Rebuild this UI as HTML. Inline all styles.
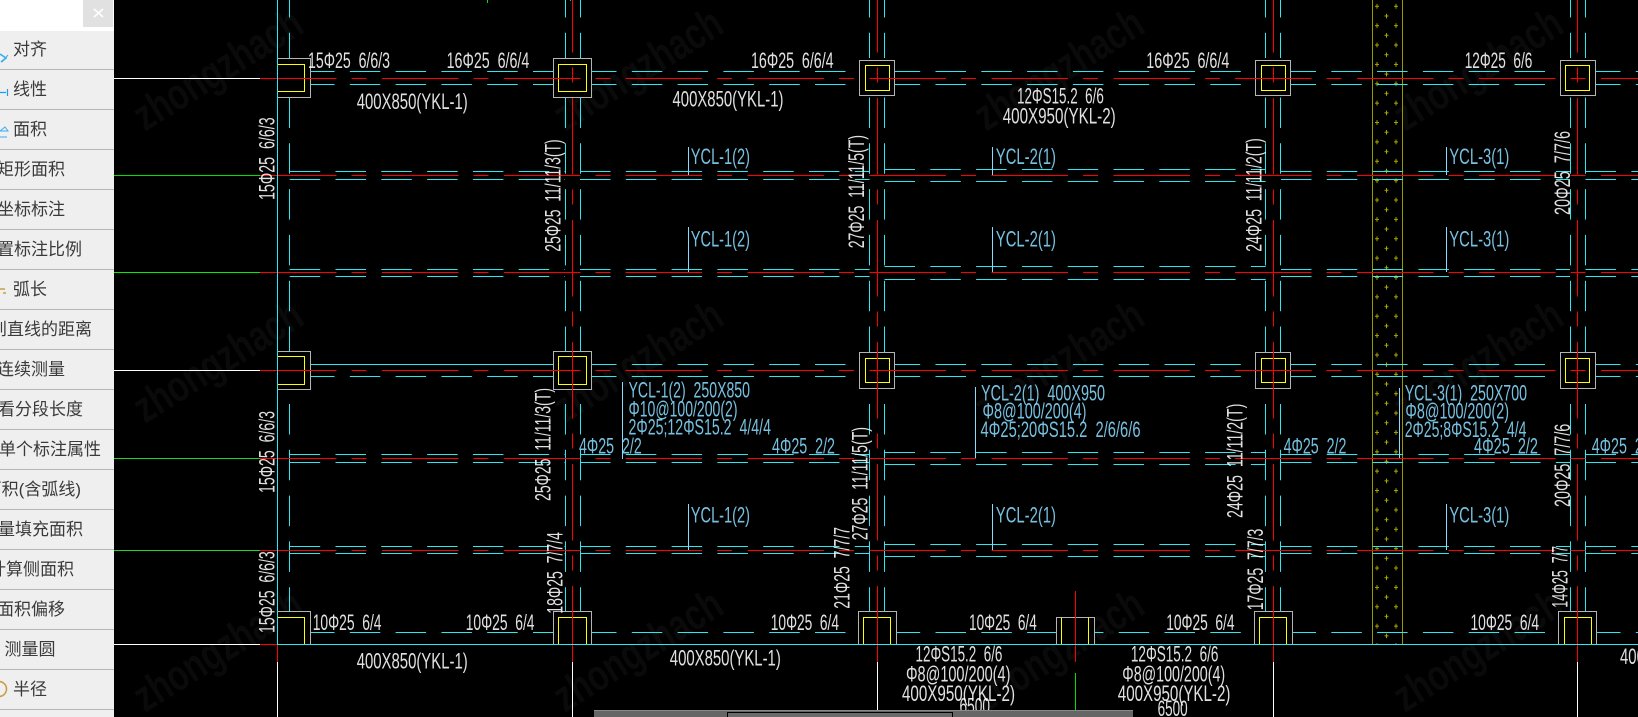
<!DOCTYPE html>
<html lang="zh">
<head>
<meta charset="utf-8">
<title>CAD</title>
<style>
html,body{margin:0;padding:0;background:#000;width:1638px;height:717px;overflow:hidden}
svg{display:block;position:absolute;left:0;top:0}
.ln line,.ln rect,.ln path{shape-rendering:crispEdges}
.w text{font-family:"Liberation Sans",sans-serif;font-size:22px;fill:#fff;fill-opacity:.88}
.b text{font-family:"Liberation Sans",sans-serif;font-size:22px;fill:#86dcff;fill-opacity:.88}
.s text{font-family:"Liberation Sans","Noto Sans CJK SC",sans-serif;font-size:17px;fill:#3a3a3a;text-anchor:end}
.wm text{font-family:"Liberation Sans",sans-serif;font-size:44px;font-weight:bold;fill:#0a0a0a}
</style>
</head>
<body>
<svg width="1638" height="717" viewBox="0 0 1638 717" xmlns="http://www.w3.org/2000/svg">
<defs>
<g id="r1" stroke="#2ce8f0" stroke-width="1" stroke-dasharray="30.5 15.3">
<line x1="304" x2="553" y1="0" y2="0"/><line x1="586" x2="860" y1="0" y2="0"/><line x1="889.7" x2="1255" y1="0" y2="0"/><line x1="1285.5" x2="1560" y1="0" y2="0"/><line x1="1590" x2="1638" y1="0" y2="0"/>
</g>
<g id="r1b" stroke="#2ce8f0" stroke-width="1" stroke-dasharray="30.5 15.3">
<line x1="586" x2="860" y1="0" y2="0"/><line x1="889.7" x2="1255" y1="0" y2="0"/><line x1="1285.5" x2="1560" y1="0" y2="0"/><line x1="1590" x2="1638" y1="0" y2="0"/>
</g>
<g id="r2" stroke="#2ce8f0" stroke-width="1" stroke-dasharray="30.5 15.3">
<line x1="289.7" x2="565" y1="0" y2="0"/><line x1="580" x2="869.6" y1="0" y2="0"/><line x1="1281" x2="1570" y1="0" y2="0"/><line x1="1585.5" x2="1638" y1="0" y2="0"/>
</g>
<g id="rw" stroke="#2ce8f0" stroke-width="1" stroke-dasharray="30.5 15.3">
<line x1="884.5" x2="1265.7" y1="0" y2="0"/>
</g>
<g id="v" stroke="#2ce8f0" stroke-width="1" stroke-dasharray="30.5 15.3">
<line x1="0" x2="0" y1="-13" y2="58"/><line x1="0" x2="0" y1="97.5" y2="352"/><line x1="0" x2="0" y1="404" y2="611"/>
</g>
<pattern id="pl" patternUnits="userSpaceOnUse" x="1372.5" y="6.3" width="30" height="19.37">
<path d="M2.5 0H6.5M4.5 -2.3V2.3M2.5 19.37H6.5M4.5 17.07V21.7M21.5 0H25.5M23.5 -2.3V2.3M21.5 19.37H25.5M23.5 17.07V21.7M12 9.7H16M14 7.4V12" stroke="#a8a800" stroke-width="1" fill="none"/>
</pattern>
</defs>

<rect width="1638" height="717" fill="#000"/>

<g class="wm">
<text transform="translate(145 132) rotate(-32)" textLength="190" lengthAdjust="spacingAndGlyphs">zhongzhach</text>
<text transform="translate(565 132) rotate(-32)" textLength="190" lengthAdjust="spacingAndGlyphs">zhongzhach</text>
<text transform="translate(986 132) rotate(-32)" textLength="190" lengthAdjust="spacingAndGlyphs">zhongzhach</text>
<text transform="translate(1405 132) rotate(-32)" textLength="190" lengthAdjust="spacingAndGlyphs">zhongzhach</text>
<text transform="translate(145 424) rotate(-32)" textLength="190" lengthAdjust="spacingAndGlyphs">zhongzhach</text>
<text transform="translate(565 424) rotate(-32)" textLength="190" lengthAdjust="spacingAndGlyphs">zhongzhach</text>
<text transform="translate(986 424) rotate(-32)" textLength="190" lengthAdjust="spacingAndGlyphs">zhongzhach</text>
<text transform="translate(1405 424) rotate(-32)" textLength="190" lengthAdjust="spacingAndGlyphs">zhongzhach</text>
<text transform="translate(145 713) rotate(-32)" textLength="190" lengthAdjust="spacingAndGlyphs">zhongzhach</text>
<text transform="translate(565 713) rotate(-32)" textLength="190" lengthAdjust="spacingAndGlyphs">zhongzhach</text>
<text transform="translate(986 713) rotate(-32)" textLength="190" lengthAdjust="spacingAndGlyphs">zhongzhach</text>
<text transform="translate(1405 713) rotate(-32)" textLength="190" lengthAdjust="spacingAndGlyphs">zhongzhach</text>
</g>

<g class="ln">
<!-- shear wall band -->
<rect x="1372.5" y="0" width="30" height="644" fill="url(#pl)"/>
<line x1="1372.5" x2="1372.5" y1="0" y2="644" stroke="#9a9a00"/>
<line x1="1402.5" x2="1402.5" y1="0" y2="644" stroke="#9a9a00"/>

<!-- cyan horizontals -->
<use href="#r1" y="71.5"/><use href="#r1" y="84.5"/>
<use href="#r2" y="171.5"/><use href="#r2" y="179.5"/><use href="#rw" y="169.5"/><use href="#rw" y="181.5"/>
<use href="#r2" y="269.5"/><use href="#r2" y="276.5"/><use href="#rw" y="266.5"/><use href="#rw" y="279.5"/>
<use href="#r1b" y="364.5"/><use href="#r1" y="376.5"/>
<line x1="304" x2="553" y1="364.5" y2="364.5" stroke="#2ce8f0"/>
<use href="#r2" y="454.5"/><use href="#r2" y="462.5"/><use href="#rw" y="452.5"/><use href="#rw" y="464.5"/>
<use href="#r2" y="546.5"/><use href="#r2" y="553.5"/><use href="#rw" y="544.5"/><use href="#rw" y="556.5"/>
<use href="#r1" y="632.5"/>

<!-- cyan verticals -->
<use href="#v" x="289.5"/>
<use href="#v" x="565.5"/><use href="#v" x="580.5"/>
<use href="#v" x="869.5"/><use href="#v" x="884.5"/>
<use href="#v" x="1265.5"/><use href="#v" x="1280.5"/>
<use href="#v" x="1570.5"/><use href="#v" x="1585.5"/>

<!-- column boxes -->
<g fill="#000" stroke="#b4b4b4">
<rect x="277.5" y="58.5" width="33" height="39"/><rect x="553.5" y="58.5" width="38" height="39"/><rect x="859.5" y="60.5" width="35" height="35"/><rect x="1255.5" y="60.5" width="35" height="35"/><rect x="1560.5" y="60.5" width="35" height="35"/>
<rect x="277.5" y="351.5" width="33" height="38"/><rect x="553.5" y="351.5" width="38" height="38"/><rect x="859.5" y="352.5" width="35" height="36"/><rect x="1255.5" y="352.5" width="35" height="36"/><rect x="1560.5" y="352.5" width="35" height="36"/>
<rect x="277.5" y="611.5" width="33" height="33"/><rect x="553.5" y="611.5" width="38" height="33"/><rect x="858.5" y="611.5" width="38" height="33"/><rect x="1056.5" y="617.5" width="38" height="27"/><rect x="1254.5" y="611.5" width="38" height="33"/><rect x="1558.5" y="611.5" width="38" height="33"/>
</g>
<g fill="none" stroke="#ffff00">
<rect x="277.5" y="64.5" width="27" height="27"/><rect x="558.5" y="64.5" width="28" height="27"/><rect x="865.5" y="65.5" width="24" height="25"/><rect x="1261.5" y="65.5" width="24" height="25"/><rect x="1565.5" y="65.5" width="24" height="25"/>
<rect x="277.5" y="356.5" width="27" height="28"/><rect x="558.5" y="356.5" width="28" height="28"/><rect x="865.5" y="358.5" width="24" height="24"/><rect x="1261.5" y="358.5" width="24" height="24"/><rect x="1565.5" y="358.5" width="24" height="24"/>
<rect x="277.5" y="617.5" width="27" height="27"/><rect x="558.5" y="617.5" width="28" height="27"/><rect x="863.5" y="617.5" width="27" height="27"/><rect x="1259.5" y="617.5" width="27" height="27"/><rect x="1564.5" y="617.5" width="27" height="27"/>
<line x1="1061.5" x2="1061.5" y1="617.5" y2="644"/><line x1="1088.5" x2="1088.5" y1="617.5" y2="644"/>
</g>

<!-- left extension lines -->
<line x1="114" x2="260" y1="78.5" y2="78.5" stroke="#fff"/>
<line x1="114" x2="260" y1="175.5" y2="175.5" stroke="#00e000"/>
<line x1="114" x2="260" y1="272.5" y2="272.5" stroke="#00f000"/>
<line x1="114" x2="260" y1="370.5" y2="370.5" stroke="#fff"/>
<line x1="114" x2="260" y1="458.5" y2="458.5" stroke="#20d820"/>
<line x1="114" x2="260" y1="550.5" y2="550.5" stroke="#20d820"/>
<line x1="114" x2="260" y1="644.5" y2="644.5" stroke="#fff"/>

<!-- red axis horizontals -->
<g stroke="#ff0000" stroke-dasharray="76.5 15 15 15.4">
<line x1="260" x2="1638" y1="78.5" y2="78.5" stroke-width="1"/>
<line x1="260" x2="1638" y1="175.5" y2="175.5"/>
<line x1="260" x2="1638" y1="272.5" y2="272.5"/>
<line x1="260" x2="1638" y1="370.5" y2="370.5"/>
<line x1="260" x2="1638" y1="458.5" y2="458.5"/>
<line x1="260" x2="1638" y1="550.5" y2="550.5"/>
</g>
<line x1="260" x2="278" y1="644.5" y2="644.5" stroke="#ff0000"/>

<!-- red axis verticals -->
<g stroke="#ff0000" stroke-dasharray="76.5 15 15 15.5">
<line x1="572.5" x2="572.5" y1="-24" y2="662"/>
<line x1="877.5" x2="877.5" y1="-24" y2="662"/>
<line x1="1273.5" x2="1273.5" y1="-24" y2="662"/>
<line x1="1577.5" x2="1577.5" y1="-24" y2="662"/>
</g>
<line x1="277.5" x2="277.5" y1="644" y2="662" stroke="#ff0000"/>
<line x1="1075.5" x2="1075.5" y1="591" y2="662" stroke="#ff0000"/>
<line x1="1075.5" x2="1075.5" y1="673" y2="710" stroke="#00e000"/>

<!-- solid cyan frame -->
<line x1="277.5" x2="277.5" y1="0" y2="644" stroke="#2ce8f0"/>
<line x1="277" x2="1638" y1="644.5" y2="644.5" stroke="#2ce8f0"/>

<!-- white axis stubs -->
<g stroke="#fff">
<line x1="277.5" x2="277.5" y1="662" y2="717"/>
<line x1="572.5" x2="572.5" y1="662" y2="717"/>
<line x1="877.5" x2="877.5" y1="662" y2="711"/>
<line x1="1273.5" x2="1273.5" y1="662" y2="717"/>
<line x1="1577.5" x2="1577.5" y1="662" y2="717"/>
</g>

<!-- small green ticks -->
<line x1="487.5" x2="487.5" y1="0" y2="3" stroke="#00e000"/>
<line x1="570.5" x2="570.5" y1="0" y2="1" stroke="#00e000"/>

<!-- leader lines -->
<g stroke="#86dcff">
<line x1="688.5" x2="688.5" y1="147" y2="175"/><line x1="992.5" x2="992.5" y1="147" y2="175"/><line x1="1446.5" x2="1446.5" y1="147" y2="175"/>
<line x1="688.5" x2="688.5" y1="227" y2="272"/><line x1="992.5" x2="992.5" y1="227" y2="272"/><line x1="1446.5" x2="1446.5" y1="227" y2="272"/>
<line x1="688.5" x2="688.5" y1="504" y2="550"/><line x1="992.5" x2="992.5" y1="504" y2="550"/><line x1="1446.5" x2="1446.5" y1="504" y2="550"/>
<line x1="622.5" x2="622.5" y1="382" y2="459"/><line x1="975.5" x2="975.5" y1="387" y2="458"/><line x1="1399.5" x2="1399.5" y1="388" y2="458"/>
</g>
</g>

<!-- white horizontal labels -->
<g class="w">
<text x="308" y="68" textLength="82" lengthAdjust="spacingAndGlyphs">15Φ25&#160;&#160;6/6/3</text>
<text x="446.6" y="68" textLength="82.7" lengthAdjust="spacingAndGlyphs">16Φ25&#160;&#160;6/6/4</text>
<text x="356.7" y="109" textLength="111" lengthAdjust="spacingAndGlyphs">400X850(YKL-1)</text>
<text x="751" y="68" textLength="82.6" lengthAdjust="spacingAndGlyphs">16Φ25&#160;&#160;6/6/4</text>
<text x="672.5" y="106.7" textLength="111" lengthAdjust="spacingAndGlyphs">400X850(YKL-1)</text>
<text x="1017" y="103.3" textLength="86.8" lengthAdjust="spacingAndGlyphs">12ΦS15.2&#160;&#160;6/6</text>
<text x="1002.7" y="123.3" textLength="113" lengthAdjust="spacingAndGlyphs">400X950(YKL-2)</text>
<text x="1146.3" y="68" textLength="83" lengthAdjust="spacingAndGlyphs">16Φ25&#160;&#160;6/6/4</text>
<text x="1464.7" y="68" textLength="67.6" lengthAdjust="spacingAndGlyphs">12Φ25&#160;&#160;6/6</text>

<text x="312.7" y="630" textLength="68.8" lengthAdjust="spacingAndGlyphs">10Φ25&#160;&#160;6/4</text>
<text x="465.7" y="630" textLength="68.8" lengthAdjust="spacingAndGlyphs">10Φ25&#160;&#160;6/4</text>
<text x="770.8" y="630" textLength="68.2" lengthAdjust="spacingAndGlyphs">10Φ25&#160;&#160;6/4</text>
<text x="969" y="630" textLength="67.8" lengthAdjust="spacingAndGlyphs">10Φ25&#160;&#160;6/4</text>
<text x="1166.2" y="630" textLength="68.3" lengthAdjust="spacingAndGlyphs">10Φ25&#160;&#160;6/4</text>
<text x="1470.5" y="630" textLength="68.5" lengthAdjust="spacingAndGlyphs">10Φ25&#160;&#160;6/4</text>

<text x="356.7" y="668.7" textLength="111" lengthAdjust="spacingAndGlyphs">400X850(YKL-1)</text>
<text x="669.8" y="665.3" textLength="111" lengthAdjust="spacingAndGlyphs">400X850(YKL-1)</text>
<text x="915.5" y="661.3" textLength="86.9" lengthAdjust="spacingAndGlyphs">12ΦS15.2&#160;&#160;6/6</text>
<text x="906" y="681.3" textLength="104.4" lengthAdjust="spacingAndGlyphs">Φ8@100/200(4)</text>
<text x="902" y="701" textLength="113" lengthAdjust="spacingAndGlyphs">400X950(YKL-2)</text>
<text x="959.5" y="713.7" textLength="30.5" lengthAdjust="spacingAndGlyphs">6500</text>
<text x="1130.9" y="661.3" textLength="87.5" lengthAdjust="spacingAndGlyphs">12ΦS15.2&#160;&#160;6/6</text>
<text x="1122.3" y="681.3" textLength="102.9" lengthAdjust="spacingAndGlyphs">Φ8@100/200(4)</text>
<text x="1117.8" y="701" textLength="112.6" lengthAdjust="spacingAndGlyphs">400X950(YKL-2)</text>
<text x="1157.6" y="716" textLength="30" lengthAdjust="spacingAndGlyphs">6500</text>
<text x="1620" y="664" textLength="111" lengthAdjust="spacingAndGlyphs">400X850(YKL-1)</text>

<!-- white vertical labels -->
<text transform="translate(274.4 200) rotate(-90)" textLength="82.7" lengthAdjust="spacingAndGlyphs">15Φ25&#160;&#160;6/6/3</text>
<text transform="translate(274.4 493) rotate(-90)" textLength="82" lengthAdjust="spacingAndGlyphs">15Φ25&#160;&#160;6/6/3</text>
<text transform="translate(274.4 633) rotate(-90)" textLength="81.7" lengthAdjust="spacingAndGlyphs">15Φ25&#160;&#160;6/6/3</text>
<text transform="translate(560.6 251.7) rotate(-90)" textLength="112.4" lengthAdjust="spacingAndGlyphs">25Φ25&#160;&#160;11/11/3(T)</text>
<text transform="translate(550.3 501) rotate(-90)" textLength="113" lengthAdjust="spacingAndGlyphs">25Φ25&#160;&#160;11/11/3(T)</text>
<text transform="translate(562.6 613.7) rotate(-90)" textLength="81.7" lengthAdjust="spacingAndGlyphs">18Φ25&#160;&#160;7/7/4</text>
<text transform="translate(863.8 248.3) rotate(-90)" textLength="113.3" lengthAdjust="spacingAndGlyphs">27Φ25&#160;&#160;11/11/5(T)</text>
<text transform="translate(867.6 540.3) rotate(-90)" textLength="113.3" lengthAdjust="spacingAndGlyphs">27Φ25&#160;&#160;11/11/5(T)</text>
<text transform="translate(849.3 608.7) rotate(-90)" textLength="81.7" lengthAdjust="spacingAndGlyphs">21Φ25&#160;&#160;7/7/7</text>
<text transform="translate(1261.3 251.7) rotate(-90)" textLength="113.4" lengthAdjust="spacingAndGlyphs">24Φ25&#160;&#160;11/11/2(T)</text>
<text transform="translate(1242.4 518) rotate(-90)" textLength="114.3" lengthAdjust="spacingAndGlyphs">24Φ25&#160;&#160;11/11/2(T)</text>
<text transform="translate(1263 610.3) rotate(-90)" textLength="81.6" lengthAdjust="spacingAndGlyphs">17Φ25&#160;&#160;7/7/3</text>
<text transform="translate(1570 215) rotate(-90)" textLength="84" lengthAdjust="spacingAndGlyphs">20Φ25&#160;&#160;7/7/6</text>
<text transform="translate(1570 507) rotate(-90)" textLength="83.3" lengthAdjust="spacingAndGlyphs">20Φ25&#160;&#160;7/7/6</text>
<text transform="translate(1567.3 607.7) rotate(-90)" textLength="61.7" lengthAdjust="spacingAndGlyphs">14Φ25&#160;&#160;7/7</text>
</g>

<!-- blue labels -->
<g class="b">
<text x="690.8" y="164" textLength="59.2" lengthAdjust="spacingAndGlyphs">YCL-1(2)</text>
<text x="995.8" y="164" textLength="60.2" lengthAdjust="spacingAndGlyphs">YCL-2(1)</text>
<text x="1449.3" y="164" textLength="60" lengthAdjust="spacingAndGlyphs">YCL-3(1)</text>
<text x="690.8" y="246.7" textLength="59.2" lengthAdjust="spacingAndGlyphs">YCL-1(2)</text>
<text x="995.8" y="246.7" textLength="60.2" lengthAdjust="spacingAndGlyphs">YCL-2(1)</text>
<text x="1449.3" y="246.7" textLength="60" lengthAdjust="spacingAndGlyphs">YCL-3(1)</text>
<text x="690.8" y="522.7" textLength="59.2" lengthAdjust="spacingAndGlyphs">YCL-1(2)</text>
<text x="995.8" y="522.7" textLength="60.2" lengthAdjust="spacingAndGlyphs">YCL-2(1)</text>
<text x="1449.3" y="522.7" textLength="60" lengthAdjust="spacingAndGlyphs">YCL-3(1)</text>

<text x="628.5" y="397.7" textLength="121.5" lengthAdjust="spacingAndGlyphs">YCL-1(2)&#160;&#160;250X850</text>
<text x="628.5" y="416.3" textLength="109" lengthAdjust="spacingAndGlyphs">Φ10@100/200(2)</text>
<text x="628.5" y="434.3" textLength="142.5" lengthAdjust="spacingAndGlyphs">2Φ25;12ΦS15.2&#160;&#160;4/4/4</text>
<text x="579" y="453.7" textLength="62.8" lengthAdjust="spacingAndGlyphs">4Φ25&#160;&#160;2/2</text>
<text x="772" y="453.7" textLength="63" lengthAdjust="spacingAndGlyphs">4Φ25&#160;&#160;2/2</text>

<text x="981" y="400.3" textLength="124" lengthAdjust="spacingAndGlyphs">YCL-2(1)&#160;&#160;400X950</text>
<text x="982.5" y="418.7" textLength="104" lengthAdjust="spacingAndGlyphs">Φ8@100/200(4)</text>
<text x="980.5" y="437" textLength="160" lengthAdjust="spacingAndGlyphs">4Φ25;20ΦS15.2&#160;&#160;2/6/6/6</text>

<text x="1404.7" y="400.3" textLength="122.3" lengthAdjust="spacingAndGlyphs">YCL-3(1)&#160;&#160;250X700</text>
<text x="1405.4" y="418.7" textLength="103.6" lengthAdjust="spacingAndGlyphs">Φ8@100/200(2)</text>
<text x="1404.7" y="437" textLength="121.8" lengthAdjust="spacingAndGlyphs">2Φ25;8ΦS15.2&#160;&#160;4/4</text>
<text x="1283.6" y="453.7" textLength="62.8" lengthAdjust="spacingAndGlyphs">4Φ25&#160;&#160;2/2</text>
<text x="1474" y="453.7" textLength="64" lengthAdjust="spacingAndGlyphs">4Φ25&#160;&#160;2/2</text>
<text x="1591.7" y="453.7" textLength="63" lengthAdjust="spacingAndGlyphs">4Φ25&#160;&#160;2/2</text>
</g>

<!-- bottom scrollbar -->
<g class="ln">
<rect x="594" y="710" width="539" height="7" fill="#666"/>
<line x1="594" x2="1133" y1="710.5" y2="710.5" stroke="#8a8a8a"/>
<rect x="727.5" y="712.5" width="225" height="6" fill="#6a6a6a" stroke="#000"/>
</g>

<!-- left panel -->
<rect x="0" y="0" width="114" height="717" fill="#efefef"/>
<rect x="0" y="0" width="114" height="31" fill="#ffffff"/>
<rect x="83" y="0" width="30" height="27" fill="#e1e1e1"/>
<path d="M94 9L103 17M103 9L94 17" stroke="#fff" stroke-width="1.6" fill="none"/>
<g class="ln" stroke="#b6b6b6">
<line x1="0" x2="114" y1="69.5" y2="69.5"/><line x1="0" x2="114" y1="109.5" y2="109.5"/><line x1="0" x2="114" y1="149.5" y2="149.5"/><line x1="0" x2="114" y1="189.5" y2="189.5"/><line x1="0" x2="114" y1="229.5" y2="229.5"/><line x1="0" x2="114" y1="269.5" y2="269.5"/><line x1="0" x2="114" y1="309.5" y2="309.5"/><line x1="0" x2="114" y1="349.5" y2="349.5"/><line x1="0" x2="114" y1="389.5" y2="389.5"/><line x1="0" x2="114" y1="429.5" y2="429.5"/><line x1="0" x2="114" y1="469.5" y2="469.5"/><line x1="0" x2="114" y1="509.5" y2="509.5"/><line x1="0" x2="114" y1="549.5" y2="549.5"/><line x1="0" x2="114" y1="589.5" y2="589.5"/><line x1="0" x2="114" y1="629.5" y2="629.5"/><line x1="0" x2="114" y1="669.5" y2="669.5"/><line x1="0" x2="114" y1="709.5" y2="709.5"/>
</g>
<g class="s">
<text x="47" y="55">对齐</text>
<text x="47" y="95">线性</text>
<text x="47" y="135">面积</text>
<text x="65" y="175">矩形面积</text>
<text x="65" y="215">坐标标注</text>
<text x="82" y="255">设置标注比例</text>
<text x="47" y="295">弧长</text>
<text x="92" y="335">到直线的距离</text>
<text x="65" y="375">连续测量</text>
<text x="83" y="415">查看分段长度</text>
<text x="101" y="455">查看单个标注属性</text>
<text x="81" y="495">面积(含弧线)</text>
<text x="83" y="535">测量填充面积</text>
<text x="74" y="575">计算侧面积</text>
<text x="65" y="615">面积偏移</text>
<text x="55.5" y="655">测量圆</text>
<text x="47" y="695">半径</text>
</g>
<!-- icons -->
<path d="M0 54L6 58L1 62" stroke="#35aef0" stroke-width="1.6" fill="none"/>
<path d="M8 55L2 62" stroke="#35aef0" stroke-width="1"/>
<path d="M0 92.5H6M7.5 89V96" stroke="#1e9ee8" stroke-width="1.2" fill="none"/>
<path d="M0 131L5 127L8 131H0M0 137H7" stroke="#35aef0" stroke-width="1" fill="none"/>
<path d="M0 289H5M3 293H6" stroke="#c8a040" stroke-width="1.6" fill="none"/>
<circle cx="-1" cy="689" r="7.5" stroke="#c8a040" stroke-width="1.6" fill="none"/>
</svg>
</body>
</html>
